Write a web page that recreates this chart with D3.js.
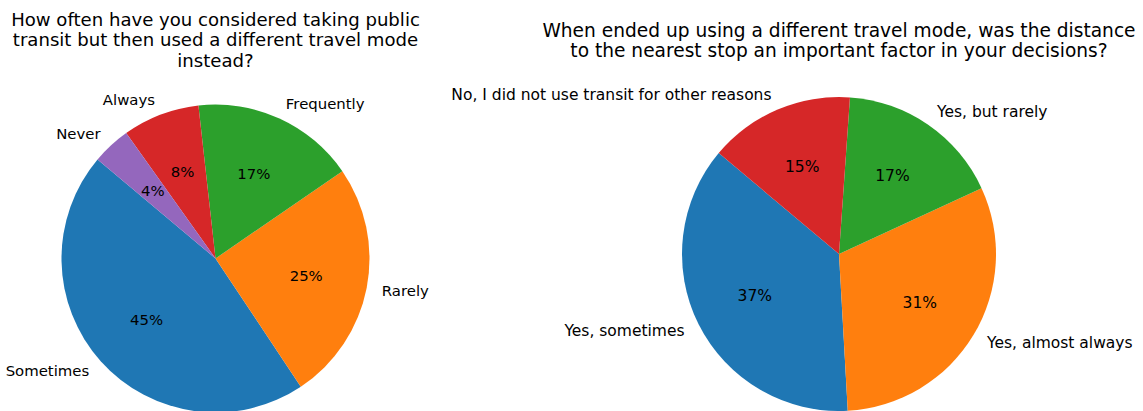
<!DOCTYPE html>
<html>
<head>
<meta charset="utf-8">
<script src="https://cdn.jsdelivr.net/npm/d3@7"></script>
<style>
  html, body { margin: 0; padding: 0; background: #ffffff; }
  svg { display: block; font-family: "DejaVu Sans", sans-serif; }
</style>
</head>
<body>
<svg id="chart" width="1143" height="411"></svg>
<script>
// Survey question 1: how often transit was considered but another mode used
const freqCategories = ["Sometimes", "Rarely", "Frequently", "Always", "Never"];
const freqValues = [45, 25, 17, 8, 4];
const freqTitle = ["How often have you considered taking public",
                   "transit but then used a different travel mode",
                   "instead?"];

// Survey question 2: was distance to the nearest stop a factor
const distCategories = ["Yes, sometimes", "Yes, almost always", "Yes, but rarely",
                        "No, I did not use transit for other reasons"];
const distValues = [37, 31, 17, 15];
const distTitle = ["When ended up using a different travel mode, was the distance",
                   "to the nearest stop an important factor in your decisions?"];

const palette = ["#1f77b4", "#ff7f0e", "#2ca02c", "#d62728", "#9467bd"];

const svg = d3.select("#chart");

function drawPie(opts) {
  const { cx, cy, r, categories, values, title, titleY, titleGap, labelSize, titleSize } = opts;
  const g = svg.append("g").attr("transform", `translate(${cx},${cy})`);

  // Wedges run counter-clockwise from 140 degrees (measured from 3 o'clock)
  const start = Math.PI / 2 - 140 * Math.PI / 180;
  const pie = d3.pie().sort(null).value(d => d.value)
    .startAngle(start).endAngle(start - 2 * Math.PI);
  const data = categories.map((c, i) => ({ label: c, value: values[i], color: palette[i] }));
  const arcs = pie(data);
  const total = d3.sum(values);

  const arc = d3.arc().innerRadius(0).outerRadius(r);
  g.selectAll("path.wedge").data(arcs).join("path")
    .attr("class", "wedge")
    .attr("d", arc)
    .attr("fill", d => d.data.color);

  const pos = (d, k) => {
    const a = (d.startAngle + d.endAngle) / 2;
    return [k * r * Math.sin(a), -k * r * Math.cos(a)];
  };

  // Category labels just outside the rim
  g.selectAll("text.cat").data(arcs).join("text")
    .attr("class", "cat")
    .attr("x", d => pos(d, 1.1)[0])
    .attr("y", d => pos(d, 1.1)[1])
    .attr("text-anchor", d => pos(d, 1.1)[0] > 0 ? "start" : "end")
    .attr("dominant-baseline", "central")
    .attr("font-size", labelSize)
    .attr("fill", "#000")
    .text(d => d.data.label);

  // Percentage labels inside each wedge
  g.selectAll("text.pct").data(arcs).join("text")
    .attr("class", "pct")
    .attr("x", d => pos(d, 0.6)[0])
    .attr("y", d => pos(d, 0.6)[1])
    .attr("text-anchor", "middle")
    .attr("dominant-baseline", "central")
    .attr("font-size", labelSize)
    .attr("fill", "#000")
    .text(d => `${Math.round(d.data.value / total * 100)}%`);

  // Title lines centred over the pie
  svg.append("g").selectAll("text").data(title).join("text")
    .attr("x", cx)
    .attr("y", (d, i) => titleY + i * titleGap)
    .attr("text-anchor", "middle")
    .attr("font-size", titleSize)
    .attr("fill", "#000")
    .text(d => d);
}

drawPie({ cx: 215.5, cy: 258.5, r: 154, categories: freqCategories, values: freqValues,
          title: freqTitle, titleY: 26, titleGap: 20.3, labelSize: 14.9, titleSize: 18.1 });
drawPie({ cx: 839, cy: 254, r: 157, categories: distCategories, values: distValues,
          title: distTitle, titleY: 36.7, titleGap: 20, labelSize: 15.5, titleSize: 18.6 });
</script>
</body>
</html>
